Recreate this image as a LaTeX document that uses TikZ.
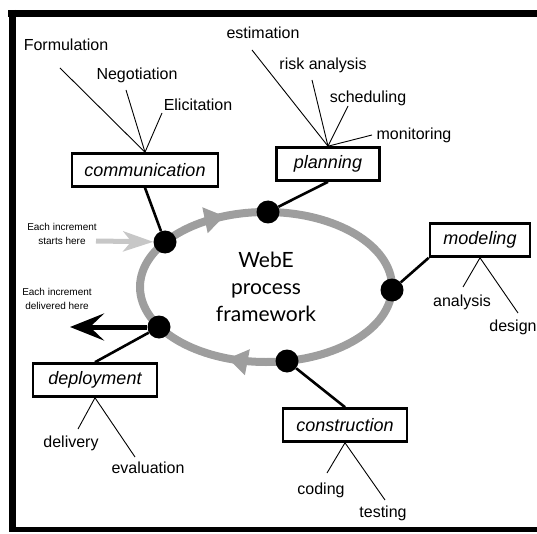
\documentclass[tikz,border=0pt]{standalone}
\usepackage{fontspec}
\setmainfont{Liberation Sans}
\newfontfamily\corefont{Lato}
\usetikzlibrary{arrows.meta,decorations.markings}
\definecolor{ringgray}{gray}{0.62}
\definecolor{startgray}{gray}{0.78}
\tikzset{
  stage/.style={draw, line width=2.6pt, minimum height=33pt, inner sep=0pt, font=\itshape\fontsize{18}{21}\selectfont},
  task/.style={inner sep=1pt, font=\fontsize{16}{19}\selectfont},
  twig/.style={line width=0.9pt},
  stem/.style={line width=2.6pt},
  dot/.style={circle, fill=black, minimum size=23pt, inner sep=0pt},
  note/.style={align=center, font=\fontsize{10}{14}\selectfont}
}
\begin{document}
\begin{tikzpicture}[x=1pt,y=-1pt]
\useasboundingbox (0,0) rectangle (537,534);
\clip (0,0) rectangle (537,534);
\draw[line width=7pt] (8,13.5) -- (537,13.5);
\draw[line width=7pt] (12.5,10) -- (12.5,532);
\draw[line width=5pt] (9,529.5) -- (537,529.5);

\draw[line width=8pt, color=ringgray, postaction={decorate, decoration={markings,
    mark=at position 0.31 with {\arrow{Triangle[length=20pt,width=25pt]}},
    mark=at position 0.685 with {\arrow{Triangle[length=20pt,width=25pt]}}}}]
  (266,287) ellipse [x radius=126, y radius=75];
\node[align=center, font=\corefont\fontsize{21}{27}\selectfont] (core) at (266,287) {WebE\\process\\framework};

\node[stage, minimum width=146pt] (comm) at (145,170) {communication};
\node[stage, minimum width=103pt] (plan) at (328,164) {planning};
\node[stage, minimum width=100pt] (mod) at (480,240) {modeling};
\node[stage, minimum width=124pt] (cons) at (345,425) {construction};
\node[stage, minimum width=124pt] (dep) at (95,380) {deployment};

\node[dot] (d1) at (165,242) {};
\node[dot] (d2) at (268,212) {};
\node[dot] (d3) at (392,290) {};
\node[dot] (d4) at (287,361) {};
\node[dot] (d5) at (159,327) {};

\draw[stem] (comm.south) -- (d1);
\draw[stem] (plan.south) -- (d2);
\draw[stem] (mod.south west) -- (d3);
\draw[stem] (d4) -- (cons.north);
\draw[stem] (d5) -- (dep.north);

\node[task] (form) at (66,45) {Formulation};
\node[task] (nego) at (137,75) {Negotiation};
\node[task] (elic) at (198,105) {Elicitation};
\node[task] (esti) at (263,33) {estimation};
\node[task] (risk) at (323,65) {risk analysis};
\node[task] (sche) at (368,98) {scheduling};
\node[task] (moni) at (414,135) {monitoring};
\node[task] (anal) at (462,302) {analysis};
\node[task] (desi) at (513,327) {design};
\node[task] (codi) at (321,490) {coding};
\node[task] (test) at (383,513) {testing};
\node[task] (deli) at (71,443) {delivery};
\node[task] (eval) at (148,468) {evaluation};

\coordinate (formTip) at (60,68);
\coordinate (negoTip) at (126,90);
\coordinate (elicTip) at (162,113);
\coordinate (estiTip) at (252,50);
\coordinate (riskTip) at (312,80);
\coordinate (scheTip) at (348,106);
\coordinate (moniTip) at (372,135);
\coordinate (analTip) at (463,287);
\coordinate (desiTip) at (518,313);
\coordinate (codiTip) at (327,473);
\coordinate (testTip) at (385,500);
\coordinate (deliTip) at (78,429);
\coordinate (evalTip) at (135,457);
\foreach \t in {formTip,negoTip,elicTip} \draw[twig] (comm.north) -- (\t);
\foreach \t in {estiTip,riskTip,scheTip,moniTip} \draw[twig] (plan.north) -- (\t);
\foreach \t in {analTip,desiTip} \draw[twig] (mod.south) -- (\t);
\foreach \t in {codiTip,testTip} \draw[twig] (cons.south) -- (\t);
\foreach \t in {deliTip,evalTip} \draw[twig] (dep.south) -- (\t);

\coordinate (startTail) at (96,241);
\draw[line width=5pt, color=startgray, -{Stealth[length=30pt,width=20pt,inset=8pt]}] (startTail) -- (d1);
\node[note] (startNote) at (62,234) {Each increment\\starts here};
\coordinate (outTip) at (70,327);
\draw[line width=5pt, -{Stealth[length=34pt,width=27pt,inset=14pt]}] (d5) -- (outTip);
\node[note] (outNote) at (57,299) {Each increment\\delivered here};
\end{tikzpicture}
\end{document}
